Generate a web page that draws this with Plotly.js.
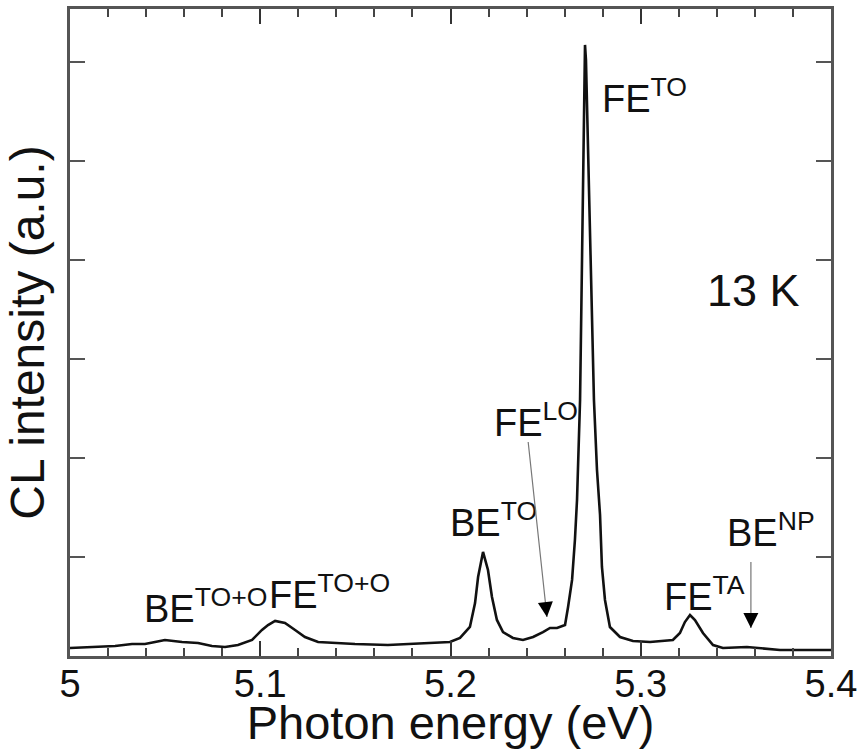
<!DOCTYPE html>
<html>
<head>
<meta charset="utf-8">
<script src="https://cdn.plot.ly/plotly-3.0.1.min.js"></script>
<style>
  html, body { margin: 0; padding: 0; background: #ffffff; }
  #chart { width: 863px; height: 749px; }
</style>
</head>
<body>
<div id="chart"></div>
<script>
// Photon energy (eV)
const energy = [
  5.0000, 5.0105, 5.0237, 5.0326, 5.0394, 5.0447, 5.0499, 5.0589, 5.0673, 5.0746,
  5.0815, 5.0883, 5.0957, 5.1009, 5.1041, 5.1078, 5.1130, 5.1183, 5.1235, 5.1304,
  5.1393, 5.1498, 5.1671, 5.1813, 5.1934, 5.1997, 5.2050, 5.2102, 5.2129, 5.2145,
  5.2171, 5.2197, 5.2218, 5.2244, 5.2276, 5.2328, 5.2381, 5.2434, 5.2486, 5.2523,
  5.2560, 5.2602, 5.2618, 5.2639, 5.2654, 5.2665, 5.2681, 5.2691, 5.2702, 5.2707,
  5.2712, 5.2723, 5.2733, 5.2744, 5.2754, 5.2770, 5.2786, 5.2796, 5.2812, 5.2838,
  5.2891, 5.2959, 5.3049, 5.3169, 5.3206, 5.3232, 5.3259, 5.3285, 5.3327, 5.3380,
  5.3432, 5.3558, 5.3611, 5.3732, 5.3863, 5.4000
];
// CL intensity (a.u.)
const intensity = [
  0.081, 0.091, 0.101, 0.121, 0.121, 0.141, 0.162, 0.141, 0.131, 0.101,
  0.091, 0.111, 0.162, 0.263, 0.313, 0.354, 0.333, 0.263, 0.192, 0.141,
  0.131, 0.121, 0.111, 0.121, 0.131, 0.141, 0.182, 0.293, 0.535, 0.798,
  1.051, 0.869, 0.596, 0.364, 0.242, 0.182, 0.162, 0.192, 0.242, 0.283,
  0.283, 0.313, 0.495, 0.768, 1.172, 1.576, 2.586, 4.101, 5.414, 6.172,
  6.020, 5.111, 4.202, 3.596, 2.586, 1.879, 1.424, 0.899, 0.566, 0.293,
  0.192, 0.152, 0.141, 0.162, 0.232, 0.343, 0.414, 0.364, 0.232, 0.111,
  0.081, 0.091, 0.081, 0.061, 0.061, 0.061
];
// peak labels
const labelText = [
  "FE<sup>TO</sup>", "FE<sup>LO</sup>", "BE<sup>TO</sup>", "BE<sup>TO+O</sup>",
  "FE<sup>TO+O</sup>", "FE<sup>TA</sup>", "BE<sup>NP</sup>"
];
const tempLabel = "13 K";

const FONT = "Liberation Sans, Arial, Helvetica, sans-serif";

const labelPos = [
  [5.2786, 5.66], [5.2218, 2.38], [5.1987, 1.37], [5.0378, 0.51],
  [5.1035, 0.65], [5.3112, 0.63], [5.3443, 1.27]
];

const annotations = labelText.map((t, i) => ({
  x: labelPos[i][0], y: labelPos[i][1], xref: "x", yref: "y",
  text: t, showarrow: false, xanchor: "left", yanchor: "middle",
  font: { family: FONT, size: 38, color: "#111" }
}));

annotations.push({
  x: 5.3338, y: 3.69, xref: "x", yref: "y", text: tempLabel, showarrow: false,
  xanchor: "left", yanchor: "middle", font: { family: FONT, size: 45, color: "#111" }
});

// arrows: thin grey shafts + black heads
const arrowTips = [[5.2507, 0.394, -19, -177], [5.3579, 0.283, 0, -68]];
arrowTips.forEach(a => {
  annotations.push({
    x: a[0], y: a[1], xref: "x", yref: "y", text: " ", showarrow: true,
    ax: a[2], ay: a[3], arrowhead: 0, arrowwidth: 1.2, arrowcolor: "#777", standoff: 0,
    font: { size: 1 }
  });
  annotations.push({
    x: a[0], y: a[1], xref: "x", yref: "y", text: " ", showarrow: true,
    ax: a[2] * 15 / Math.abs(a[3]), ay: -15, arrowhead: 2, arrowsize: 2, arrowwidth: 1.5,
    arrowcolor: "#000", standoff: 0, font: { size: 1 }
  });
});

const trace = {
  x: energy, y: intensity, type: "scatter", mode: "lines",
  line: { color: "#111", width: 2.6 }
};

const layout = {
  width: 863, height: 749,
  margin: { l: 70, r: 32, t: 9, b: 93 },
  showlegend: false,
  font: { family: FONT, color: "#111" },
  xaxis: {
    range: [5.0, 5.4], tickmode: "linear", tick0: 5.0, dtick: 0.1,
    ticks: "inside", ticklen: 15, tickwidth: 2, tickcolor: "#333",
    minor: { dtick: 0.02, ticks: "inside", ticklen: 8, tickwidth: 2, tickcolor: "#444" },
    showline: true, linecolor: "#555", linewidth: 3, mirror: "ticks",
    showgrid: false, zeroline: false,
    ticklabelstandoff: -8,
    tickfont: { family: FONT, size: 38, color: "#111" },
    title: { text: "Photon energy (eV)", font: { family: FONT, size: 47, color: "#111" }, standoff: 0 }
  },
  yaxis: {
    range: [0, 6.535], dtick: 1, tick0: 0,
    ticks: "inside", ticklen: 15, tickwidth: 1.6, tickcolor: "#555",
    showticklabels: false,
    showline: true, linecolor: "#555", linewidth: 3, mirror: "ticks",
    showgrid: false, zeroline: false,
    title: { text: "CL intensity (a.u.)", font: { family: FONT, size: 48, color: "#111" }, standoff: 8 }
  },
  annotations: annotations
};

Plotly.newPlot("chart", [trace], layout, { staticPlot: true });
</script>
</body>
</html>
